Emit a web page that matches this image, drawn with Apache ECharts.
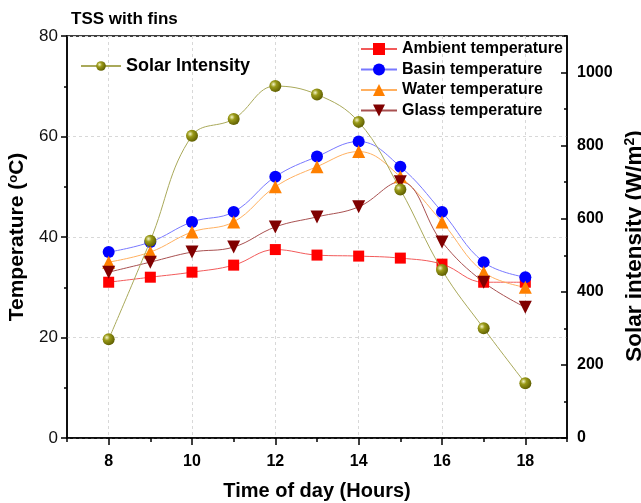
<!DOCTYPE html>
<html><head><meta charset="utf-8">
<script src="https://cdn.jsdelivr.net/npm/echarts@6/dist/echarts.min.js"></script>
<style>html,body{margin:0;padding:0;background:#fff}#c{width:641px;height:503px}</style>
</head><body><div id="c"></div>
<script>
const hours = [8, 9, 10, 11, 12, 13, 14, 15, 16, 17, 18];
const xCategories = ['7','8','9','10','11','12','13','14','15','16','17','18','19'];
const ambient = [31.0, 32.0, 33.0, 34.4, 37.5, 36.4, 36.2, 35.8, 34.6, 31.0, 31.0];
const basin   = [37.0, 39.0, 43.0, 45.0, 52.0, 56.0, 59.0, 54.0, 45.0, 35.0, 32.0];
const water   = [35.0, 37.0, 41.0, 43.0, 50.0, 54.0, 57.0, 52.0, 43.0, 33.0, 30.0];
const glass   = [33.0, 35.0, 37.0, 38.0, 42.0, 44.0, 46.0, 51.0, 39.0, 31.0, 26.0];
const solar   = [270, 540, 827, 873, 963, 940, 865, 680, 460, 300, 150];
const leftTicks = [0, 20, 40, 60, 80];
const rightTicks = [0, 200, 400, 600, 800, 1000];

const FONT = '"Liberation Sans", Arial, sans-serif';
const even = (i, v) => (+v) % 2 === 0;
const pairs = arr => hours.map((h, i) => [String(h), arr[i]]);

const chart = echarts.init(document.getElementById('c'), null, {renderer: 'canvas'});
function mk(name, data, lineColor, markColor, symbol, size, extra) {
  return Object.assign({
    name, type: 'line', xAxisIndex: 0, yAxisIndex: 0,
    data: pairs(data), smooth: 0.4, symbol, symbolSize: size,
    lineStyle: {color: lineColor, width: 1},
    itemStyle: {color: markColor, borderWidth: 0},
    emphasis: {disabled: true}
  }, extra || {});
}
const solarGrad = new echarts.graphic.RadialGradient(0.35, 0.35, 0.7, [
  {offset: 0, color: '#f4f4c8'}, {offset: 0.35, color: '#9a9a18'}, {offset: 1, color: '#5c5c00'}
]);
chart.setOption({
  animation: false,
  textStyle: {fontFamily: FONT},
  title: {text: 'TSS with fins', left: 66, top: 6,
    textStyle: {fontFamily: FONT, fontWeight: 'bold', fontSize: 17, color: '#000'}},
  grid: {left: 67, right: 74, top: 36, bottom: 65, outerBoundsMode: 'none', containLabel: false,
    show: true, borderColor: '#000', borderWidth: 1.5, backgroundColor: 'transparent'},
  legend: [
    {data: ['Solar Intensity'], left: 75, top: 52, itemWidth: 40, itemHeight: 12,
     textStyle: {fontFamily: FONT, fontWeight: 'bold', fontSize: 18, color: '#000'}},
    {data: ['Ambient temperature', 'Basin temperature', 'Water temperature', 'Glass temperature'],
     orient: 'vertical', left: 355, top: 36, itemGap: 4.5, itemWidth: 36, itemHeight: 15,
     textStyle: {fontFamily: FONT, fontWeight: 'bold', fontSize: 16, color: '#000'}}
  ],
  xAxis: [
    {type: 'category', data: xCategories, boundaryGap: false, position: 'bottom',
     name: 'Time of day (Hours)', nameLocation: 'middle', nameGap: 43,
     nameTextStyle: {fontFamily: FONT, fontWeight: 'bold', fontSize: 20, color: '#000'},
     axisLine: {lineStyle: {color: '#000', width: 1.5}},
     axisTick: {interval: even, length: 7, lineStyle: {color: '#000', width: 1.5}},
     axisLabel: {interval: even, fontFamily: FONT, fontWeight: 'bold', fontSize: 16, color: '#000', margin: 16},
     splitLine: {show: true, interval: even, lineStyle: {color: '#d8d8d8', type: [3, 3], width: 1}}},
    {type: 'category', data: xCategories, boundaryGap: false, position: 'bottom',
     axisLine: {show: false}, axisTick: {interval: 0, length: 4, lineStyle: {color: '#000', width: 1.5}},
     axisLabel: {show: false}, splitLine: {show: false}}
  ],
  yAxis: [
    {type: 'value', min: leftTicks[0], max: leftTicks[leftTicks.length - 1], interval: 20, position: 'left',
     name: '{a|Temperature (}{s|o}{a|C)}', nameLocation: 'middle', nameGap: 31, nameRotate: 90,
     nameTextStyle: {rich: {
       a: {fontFamily: FONT, fontWeight: 'bold', fontSize: 21, color: '#000'},
       s: {fontFamily: FONT, fontWeight: 'bold', fontSize: 13, color: '#000', verticalAlign: 'top', padding: [0, 0, 9, 0]}}},
     axisLine: {show: true, lineStyle: {color: '#000', width: 1.5}},
     axisTick: {show: true, length: 6, lineStyle: {color: '#000', width: 1.5}},
     minorTick: {show: true, splitNumber: 2, length: 3, lineStyle: {color: '#000', width: 1.5}},
     axisLabel: {fontFamily: FONT, fontSize: 17, color: '#111', margin: 9, formatter: v => String(v)},
     splitLine: {show: true, lineStyle: {color: '#d8d8d8', type: [3, 3], width: 1}}},
    {type: 'value', min: rightTicks[0], max: 1100, interval: 200, position: 'right',
     name: '{a|Solar intensity (W/m}{s|2}{a|)}', nameLocation: 'middle', nameGap: 54, nameRotate: 90,
     nameTextStyle: {padding: [0, 18, 0, 0], rich: {
       a: {fontFamily: FONT, fontWeight: 'bold', fontSize: 22.5, color: '#000'},
       s: {fontFamily: FONT, fontWeight: 'bold', fontSize: 14, color: '#000', verticalAlign: 'top', padding: [0, 0, 9, 0]}}},
     axisLine: {show: true, lineStyle: {color: '#000', width: 1.5}},
     axisTick: {show: true, inside: true, length: 6, lineStyle: {color: '#000', width: 1.5}},
     axisLabel: {fontFamily: FONT, fontWeight: 'bold', fontSize: 16, color: '#000', margin: 10, showMaxLabel: false,
       formatter: v => String(v)},
     splitLine: {show: false}},
    {type: 'value', min: 0, max: 1100, interval: 100, position: 'right',
     axisLine: {show: false}, axisTick: {show: true, inside: true, length: 3, lineStyle: {color: '#000', width: 1.5}},
     axisLabel: {show: false}, splitLine: {show: false}}
  ],
  series: [
    mk('Ambient temperature', ambient, '#f25a5a', '#ff0000', 'rect', 11),
    mk('Basin temperature', basin, '#7878ff', '#0000ff', 'circle', 12),
    mk('Water temperature', water, '#ffb060', '#ff8000', 'triangle', 13),
    mk('Glass temperature', glass, '#a85050', '#800000', 'triangle', 13, {symbolRotate: 180}),
    mk('Solar Intensity', solar, '#a9a95a', solarGrad, 'circle', 12, {yAxisIndex: 1, z: 5})
  ]
});
</script></body></html>
